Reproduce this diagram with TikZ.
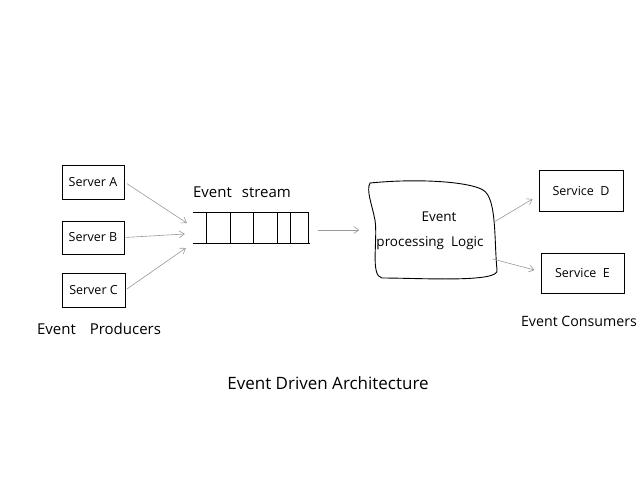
\documentclass[tikz,border=0pt]{standalone}
\usepackage{fontspec}
\setmainfont{Open Sans}
\usetikzlibrary{arrows.meta}
\begin{document}
\begin{tikzpicture}[x=1pt,y=-1pt,
  box/.style={draw=black,line width=0.9pt,inner sep=0pt,font=\fontsize{12.5}{14}\selectfont},
  conn/.style={draw=black!40,line width=0.6pt,-{Straight Barb[length=5pt,width=7pt]}},
  lbl/.style={font=\fontsize{14}{16}\selectfont,inner sep=0pt},
  ln/.style={line width=0.8pt}]
\useasboundingbox (0,0) rectangle (640,480);
% producers
\node[box,minimum width=62pt,minimum height=34pt] (A) at (93,182) {Server A};
\node[box,minimum width=62pt,minimum height=33pt] (B) at (93,237.5) {Server B};
\node[box,minimum width=63pt,minimum height=34pt] (C) at (93.5,290) {Server C};
\node[lbl,font=\fontsize{15}{17}\selectfont] (prod) at (99,329) {Event\hspace{14pt}Producers};
% stream
\node[inner sep=0pt,minimum width=116pt,minimum height=30pt] (S) at (251,228) {};
\node[lbl,font=\fontsize{15}{17}\selectfont] (slab) at (242,192) {Event\hspace{10pt}stream};
\draw[ln] (S.north west) -- (S.north east);
\draw[ln] (S.south west) -- ([xshift=1pt]S.south east);
\foreach \xx in {206,230,253,277,290,308}
  \draw[ln] (\xx,213) -- (\xx,243);
% processing
\node[inner sep=0pt,minimum width=125pt,minimum height=98pt,align=center,font=\fontsize{13.5}{25}\selectfont] (P) at (430,231) {\hspace*{18pt}Event\\processing\ \ Logic};
\draw[line width=0.9pt] (370,183) .. controls (420,178) and (470,182) .. (483,190)
  .. controls (497,198) and (494,240) .. (497,270)
  .. controls (500,283) and (420,278) .. (382,278)
  .. controls (370,276) and (378,240) .. (375,220)
  .. controls (372,205) and (366,190) .. (370,183) -- cycle;
% consumers
\node[box,minimum width=84pt,minimum height=41pt] (D) at (581,190.5) {Service\ \ D};
\node[box,minimum width=83pt,minimum height=40pt] (E) at (582.5,273) {Service\ \ E};
\node[lbl,font=\fontsize{14.2}{17}\selectfont] (cons) at (579,321) {Event\ Consumers};
% title
\node[lbl,font=\fontsize{17}{19}\selectfont] (title) at (328,383) {Event\ Driven\ Architecture};
% connectors
\draw[conn,shorten <=3pt] (A.east) -- ([xshift=-6pt,yshift=5pt]S.west);
\draw[conn,shorten <=1pt] (B.east) -- ([xshift=-8pt,yshift=-6pt]S.west);
\draw[conn,shorten <=2pt] (C.east) -- ([xshift=-7pt,yshift=-20pt]S.west);
\draw[conn] ([xshift=9pt,yshift=-2pt]S.east) -- ([xshift=-8pt,yshift=1pt]P.west);
\draw[conn] ([xshift=1.5pt,yshift=9pt]P.east) -- ([xshift=-6pt,yshift=-8.5pt]D.west);
\draw[conn] ([xshift=0pt,yshift=-28pt]P.east) -- ([xshift=-6pt,yshift=3pt]E.west);
\end{tikzpicture}
\end{document}
